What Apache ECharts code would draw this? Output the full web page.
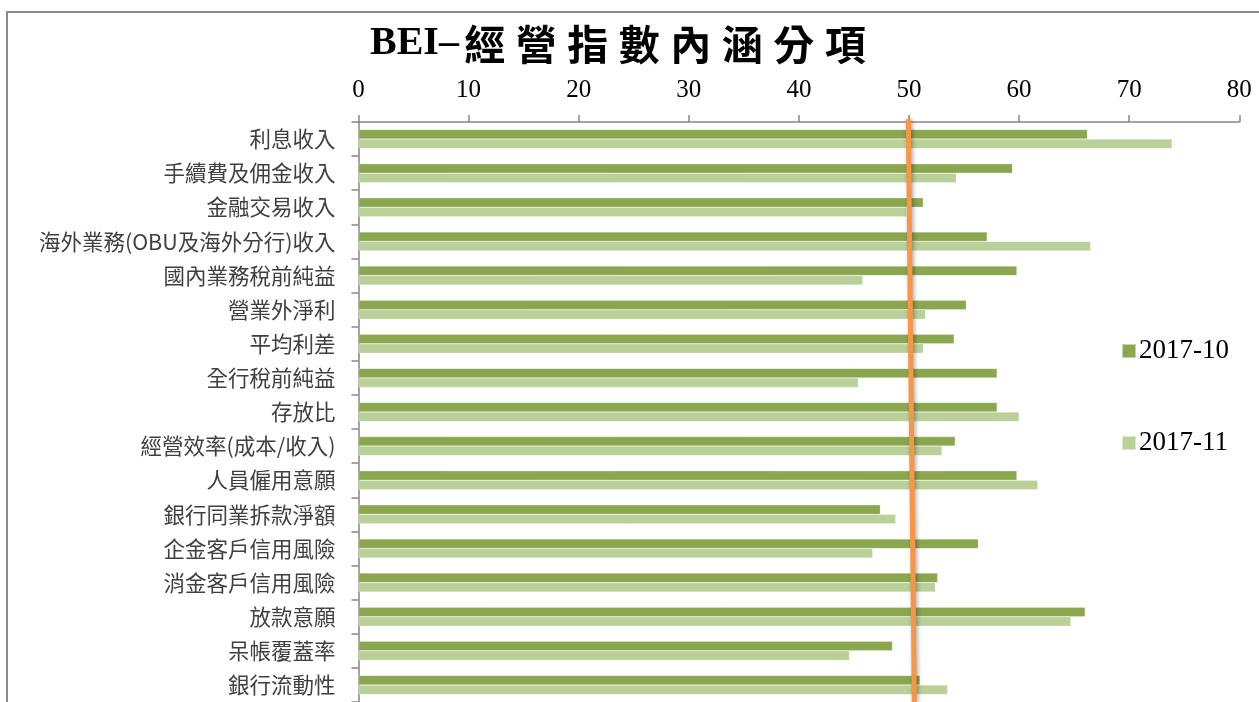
<!DOCTYPE html>
<html>
<head>
<meta charset="utf-8">
<script src="https://cdn.jsdelivr.net/npm/echarts@6/dist/echarts.min.js"></script>
<style>
html,body{margin:0;padding:0;background:#fff;}
#main{width:1259px;height:702px;}
</style>
</head>
<body>
<div id="main"></div>
<script>
// ---- data ----
const titleLatin = 'BEI–';
const titleCJK = '經營指數內涵分項';
const categories = [
  '利息收入', '手續費及佣金收入', '金融交易收入', '海外業務(OBU及海外分行)收入',
  '國內業務稅前純益', '營業外淨利', '平均利差', '全行稅前純益', '存放比',
  '經營效率(成本/收入)', '人員僱用意願', '銀行同業拆款淨額', '企金客戶信用風險',
  '消金客戶信用風險', '放款意願', '呆帳覆蓋率', '銀行流動性'
];
const seriesNames = ['2017-10', '2017-11'];
const oct2017 = [66.2, 59.4, 51.3, 57.1, 59.8, 55.2, 54.1, 58.0, 58.0, 54.2, 59.8, 47.4, 56.3, 52.6, 66.0, 48.5, 51.0];
const nov2017 = [73.9, 54.3, 49.8, 66.5, 45.8, 51.5, 51.3, 45.4, 60.0, 53.0, 61.7, 48.8, 46.7, 52.4, 64.7, 44.6, 53.5];
const xTicks = [0, 10, 20, 30, 40, 50, 60, 70, 80];
// reference line (value 50), slightly tilted as in the original
const refLineX = [49.94, 50.48];
const refLineY = [-0.005, 1];

// ---- chart ----
const chart = echarts.init(document.getElementById('main'), null, {renderer: 'canvas'});
const titleRich = '{lat|' + titleLatin + '}' + titleCJK.split('').map(c => '{cjk|' + c + '}').join('');

const option = {
  backgroundColor: '#ffffff',
  animation: false,
  graphic: [{
    type: 'rect',
    shape: {x: 7, y: 12, width: 1300, height: 720},
    style: {fill: 'none', stroke: '#8c8c8c', lineWidth: 2},
    silent: true,
    z: -1
  }],
  title: {
    text: titleRich,
    left: 370,
    top: 21,
    padding: 0,
    textStyle: {
      rich: {
        lat: {fontFamily: 'Liberation Serif', fontWeight: 'bold', fontSize: 40, color: '#000', lineHeight: 46},
        cjk: {fontFamily: 'Noto Sans CJK TC', fontWeight: 'bold', fontSize: 41, color: '#000', width: 51.5, align: 'center', lineHeight: 46}
      }
    }
  },
  legend: {
    data: seriesNames,
    orient: 'vertical',
    left: 1121,
    top: 337.5,
    padding: 0,
    itemWidth: 14,
    itemHeight: 14,
    itemGap: 65,
    icon: 'rect',
    textStyle: {fontFamily: 'Liberation Serif', fontSize: 27, color: '#000', lineHeight: 27, padding: [0, 0, 0, -2]}
  },
  grid: {left: 358.5, right: 19.7, top: 122, bottom: 0, containLabel: false},
  xAxis: [{
    type: 'value',
    position: 'top',
    min: xTicks[0],
    max: xTicks[xTicks.length - 1],
    interval: xTicks[1] - xTicks[0],
    axisLine: {show: true, lineStyle: {color: '#868686', width: 1.5}},
    axisTick: {show: true, length: 7, lineStyle: {color: '#868686', width: 1.5}},
    splitLine: {show: false},
    axisLabel: {fontFamily: 'Liberation Serif', fontSize: 25, color: '#000', margin: 19}
  }],
  yAxis: [{
    type: 'category',
    data: categories,
    inverse: true,
    axisLine: {show: true, lineStyle: {color: '#868686', width: 1.5}},
    axisTick: {show: true, length: 7, lineStyle: {color: '#868686', width: 1.5}},
    axisLabel: {fontFamily: 'Noto Sans CJK TC', fontSize: 21.5, color: '#404040', margin: 23}
  }, {
    type: 'value',
    min: 0,
    max: 1,
    inverse: true,
    show: false
  }],
  series: [{
    name: seriesNames[0],
    type: 'bar',
    data: oct2017,
    barWidth: 9.5,
    barGap: '0%',
    itemStyle: {color: '#8aa64f', borderColor: 'rgba(255,255,255,0.5)', borderWidth: 0.5}
  }, {
    name: seriesNames[1],
    type: 'bar',
    data: nov2017,
    barWidth: 9.5,
    barGap: '0%',
    itemStyle: {color: '#b9d099', borderColor: 'rgba(255,255,255,0.5)', borderWidth: 0.5}
  }, {
    name: 'ref',
    type: 'line',
    yAxisIndex: 1,
    data: refLineX.map((v, i) => [v, refLineY[i]]),
    symbol: 'none',
    clip: false,
    z: 5,
    lineStyle: {color: '#f79646', width: 5, shadowBlur: 4, shadowColor: 'rgba(0,0,0,0.35)', shadowOffsetX: 1.5, shadowOffsetY: 1}
  }]
};
chart.setOption(option);
</script>
</body>
</html>
